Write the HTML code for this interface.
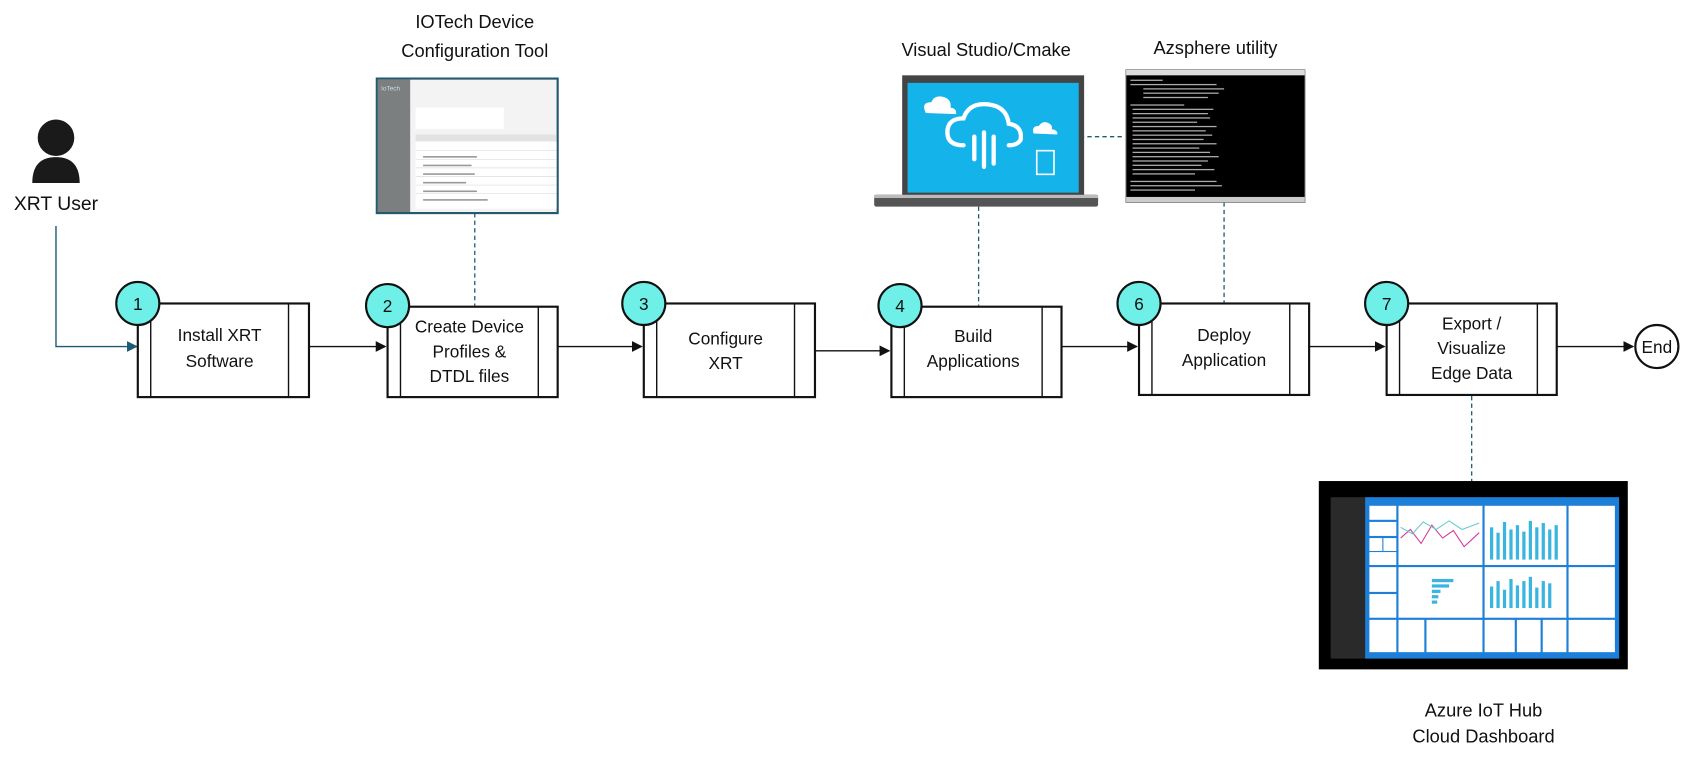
<!DOCTYPE html>
<html><head><meta charset="utf-8"><style>
html,body{margin:0;padding:0;background:#fff;}
svg{display:block}
text{font-family:"Liberation Sans",sans-serif;fill:#111;}
</style></head><body>
<svg width="1687" height="763" viewBox="0 0 1567 709" preserveAspectRatio="none" xmlns="http://www.w3.org/2000/svg">
<defs>
<marker id="ah" markerWidth="10" markerHeight="10" refX="9" refY="5" orient="auto" markerUnits="userSpaceOnUse"><path d="M0,0 L10,5 L0,10 z" fill="#111"/></marker>
<marker id="ahb" markerWidth="10" markerHeight="10" refX="9" refY="5" orient="auto" markerUnits="userSpaceOnUse"><path d="M0,0 L10,5 L0,10 z" fill="#1f5a73"/></marker>
</defs>

<!-- user icon -->
<circle cx="52" cy="128" r="17" fill="#1a1a1a"/>
<path d="M30,170 Q30,146 52,146 Q74,146 74,170 Z" fill="#1a1a1a"/>
<text x="52" y="195" text-anchor="middle" font-size="18">XRT User</text>
<path d="M52,210 V322 H127" fill="none" stroke="#1f5a73" stroke-width="1.3" marker-end="url(#ahb)"/>

<!-- dashed connectors -->
<g stroke="#1f5a73" stroke-width="1.2" stroke-dasharray="4,3" fill="none">
<line x1="441" y1="198" x2="441" y2="284"/>
<line x1="909" y1="192" x2="909" y2="284"/>
<line x1="1003" y1="127" x2="1045" y2="127"/>
<line x1="1137" y1="188" x2="1137" y2="282"/>
<line x1="1367" y1="368" x2="1367" y2="447"/>
</g>

<!-- flow arrows -->
<g stroke="#111" stroke-width="1.3" fill="none">
<line x1="287" y1="322" x2="358" y2="322" marker-end="url(#ah)"/>
<line x1="518" y1="322" x2="596" y2="322" marker-end="url(#ah)"/>
<line x1="757" y1="326" x2="826" y2="326" marker-end="url(#ah)"/>
<line x1="986" y1="322" x2="1056" y2="322" marker-end="url(#ah)"/>
<line x1="1216" y1="322" x2="1286" y2="322" marker-end="url(#ah)"/>
<line x1="1446" y1="322" x2="1517" y2="322" marker-end="url(#ah)"/>
</g>

<!-- process boxes -->
<g fill="#fff" stroke="#111" stroke-width="2">
<rect x="128" y="282" width="159" height="87"/><line x1="140" y1="282" x2="140" y2="369" stroke-width="1.3"/><line x1="268" y1="282" x2="268" y2="369" stroke-width="1.3"/>
<rect x="360" y="285" width="158" height="84"/><line x1="372" y1="285" x2="372" y2="369" stroke-width="1.3"/><line x1="500" y1="285" x2="500" y2="369" stroke-width="1.3"/>
<rect x="598" y="282" width="159" height="87"/><line x1="610" y1="282" x2="610" y2="369" stroke-width="1.3"/><line x1="738" y1="282" x2="738" y2="369" stroke-width="1.3"/>
<rect x="828" y="285" width="158" height="84"/><line x1="840" y1="285" x2="840" y2="369" stroke-width="1.3"/><line x1="968" y1="285" x2="968" y2="369" stroke-width="1.3"/>
<rect x="1058" y="282" width="158" height="85"/><line x1="1070" y1="282" x2="1070" y2="367" stroke-width="1.3"/><line x1="1198" y1="282" x2="1198" y2="367" stroke-width="1.3"/>
<rect x="1288" y="282" width="158" height="85"/><line x1="1300" y1="282" x2="1300" y2="367" stroke-width="1.3"/><line x1="1428" y1="282" x2="1428" y2="367" stroke-width="1.3"/>
</g>
<g font-size="16" text-anchor="middle">
<text x="204" y="317">Install XRT</text><text x="204" y="341">Software</text>
<text x="436" y="309">Create Device</text><text x="436" y="332">Profiles &amp;</text><text x="436" y="355">DTDL files</text>
<text x="674" y="320">Configure</text><text x="674" y="343">XRT</text>
<text x="904" y="318">Build</text><text x="904" y="341">Applications</text>
<text x="1137" y="317">Deploy</text><text x="1137" y="340">Application</text>
<text x="1367" y="306">Export /</text><text x="1367" y="329">Visualize</text><text x="1367" y="352">Edge Data</text>
</g>

<!-- number circles -->
<g fill="#6ef0e8" stroke="#111" stroke-width="2">
<circle cx="128" cy="282" r="20"/><circle cx="360" cy="284" r="20"/><circle cx="598" cy="282" r="20"/>
<circle cx="836" cy="284" r="20"/><circle cx="1058" cy="282" r="20"/><circle cx="1288" cy="282" r="20"/>
</g>
<g font-size="16" text-anchor="middle">
<text x="128" y="288">1</text><text x="360" y="290">2</text><text x="598" y="288">3</text>
<text x="836" y="290">4</text><text x="1058" y="288">6</text><text x="1288" y="288">7</text>
</g>
<circle cx="1539" cy="322" r="20" fill="#fff" stroke="#111" stroke-width="2"/>
<text x="1539" y="328" font-size="16" text-anchor="middle">End</text>

<!-- top labels -->
<g font-size="17" text-anchor="middle">
<text x="441" y="26">IOTech Device</text><text x="441" y="53">Configuration Tool</text>
<text x="916" y="52">Visual Studio/Cmake</text>
<text x="1129" y="50">Azsphere utility</text>
<text x="1378" y="666">Azure IoT Hub</text><text x="1378" y="690">Cloud Dashboard</text>
</g>

<!-- IOTech screenshot -->
<rect x="350" y="73" width="168" height="125" fill="#f3f3f3" stroke="#245a6e" stroke-width="2"/>
<rect x="351" y="74" width="30" height="123" fill="#7b7f80"/>
<text x="354" y="84" font-size="6" style="fill:#cde">IoTech</text>
<rect x="386" y="100" width="82" height="20" fill="#fff"/>
<rect x="386" y="125" width="131" height="6" fill="#e2e2e2"/>
<g fill="#fff"><rect x="386" y="132" width="131" height="62"/></g>
<g stroke="#ddd" stroke-width="0.6">
<line x1="386" y1="140" x2="517" y2="140"/><line x1="386" y1="148" x2="517" y2="148"/><line x1="386" y1="156" x2="517" y2="156"/>
<line x1="386" y1="164" x2="517" y2="164"/><line x1="386" y1="172" x2="517" y2="172"/><line x1="386" y1="180" x2="517" y2="180"/>
</g>
<g fill="#999"><rect x="393" y="145" width="50" height="1.5"/><rect x="393" y="153" width="45" height="1.5"/><rect x="393" y="161" width="48" height="1.5"/><rect x="393" y="169" width="40" height="1.5"/><rect x="393" y="177" width="50" height="1.5"/><rect x="393" y="185" width="60" height="1.5"/></g>

<!-- laptop -->
<rect x="838" y="70" width="169" height="112" fill="#444"/>
<rect x="843" y="77" width="159" height="102" fill="#14b3ea"/>
<rect x="812" y="181" width="208" height="11" rx="2" fill="#555"/>
<rect x="812" y="181" width="208" height="3" fill="#bbb"/>
<g fill="none" stroke="#fff" stroke-width="4" stroke-linecap="round">
<path d="M895,135 Q880,135 880,123 Q880,110 895,110 Q900,95 918,97 Q935,99 937,115 Q950,117 948,130 Q945,135 937,135"/>
<line x1="905" y1="127" x2="905" y2="148"/><line x1="914" y1="123" x2="914" y2="155"/><line x1="923" y1="127" x2="923" y2="152"/>
</g>
<path d="M860,105 Q855,95 865,95 Q868,88 876,90 Q884,92 883,100 Q889,101 888,106 Z" fill="#fff"/>
<path d="M960,124 Q958,117 965,117 Q968,112 973,114 Q978,116 977,120 Q983,121 982,125 Z" fill="#fff"/>
<rect x="963" y="140" width="16" height="22" fill="none" stroke="#fff" stroke-width="1.5"/>

<!-- terminal -->
<rect x="1046" y="65" width="166" height="123" fill="#000" stroke="#555"/>
<rect x="1046" y="65" width="166" height="5" fill="#ddd"/>
<rect x="1046" y="183" width="166" height="5" fill="#ccc"/>
<g fill="#aaa">
<rect x="1050" y="74" width="30" height="1.2"/><rect x="1050" y="78" width="80" height="1.2"/><rect x="1062" y="82" width="75" height="1.2"/><rect x="1062" y="86" width="70" height="1.2"/><rect x="1062" y="90" width="60" height="1.2"/>
<rect x="1050" y="97" width="50" height="1.2"/><rect x="1052" y="101" width="75" height="1.2"/><rect x="1052" y="105" width="70" height="1.2"/><rect x="1052" y="109" width="72" height="1.2"/><rect x="1052" y="113" width="60" height="1.2"/><rect x="1052" y="117" width="78" height="1.2"/><rect x="1052" y="121" width="68" height="1.2"/><rect x="1052" y="125" width="74" height="1.2"/><rect x="1052" y="129" width="66" height="1.2"/><rect x="1052" y="133" width="78" height="1.2"/><rect x="1052" y="137" width="62" height="1.2"/><rect x="1052" y="141" width="72" height="1.2"/><rect x="1052" y="145" width="80" height="1.2"/><rect x="1052" y="149" width="70" height="1.2"/><rect x="1052" y="153" width="64" height="1.2"/><rect x="1052" y="157" width="76" height="1.2"/><rect x="1052" y="161" width="58" height="1.2"/>
<rect x="1050" y="168" width="80" height="1.2"/><rect x="1050" y="172" width="85" height="1.2"/><rect x="1050" y="176" width="60" height="1.2"/>
</g>

<!-- dashboard -->
<rect x="1225" y="447" width="287" height="175" fill="#000"/>
<rect x="1236" y="462" width="32" height="150" fill="#2a2a2a"/>
<rect x="1268" y="462" width="236" height="150" fill="#1e7fd8"/>
<g fill="#fff">
<rect x="1272" y="470" width="25" height="13"/><rect x="1272" y="485" width="25" height="13"/><rect x="1272" y="500" width="12" height="12"/><rect x="1285" y="500" width="12" height="12"/><rect x="1272" y="513" width="25" height="12"/>
<rect x="1299" y="470" width="78" height="55"/><rect x="1379" y="470" width="76" height="55"/><rect x="1457" y="470" width="43" height="55"/>
<rect x="1272" y="527" width="25" height="23"/><rect x="1272" y="552" width="25" height="22"/>
<rect x="1299" y="527" width="78" height="47"/><rect x="1379" y="527" width="76" height="47"/><rect x="1457" y="527" width="43" height="47"/>
<rect x="1272" y="576" width="25" height="30"/><rect x="1299" y="576" width="24" height="30"/><rect x="1325" y="576" width="52" height="30"/><rect x="1379" y="576" width="28" height="30"/><rect x="1409" y="576" width="22" height="30"/><rect x="1433" y="576" width="22" height="30"/><rect x="1457" y="576" width="43" height="30"/>
</g>
<path d="M1301,500 L1310,492 L1320,505 L1330,488 L1340,500 L1350,493 L1360,508 L1374,495" stroke="#d63a9a" fill="none" stroke-width="1"/>
<path d="M1301,490 L1312,496 L1322,485 L1334,492 L1346,484 L1358,492 L1374,486" stroke="#6cc" fill="none" stroke-width="1"/>
<g fill="#3ab5e0"><rect x="1384" y="490" width="3" height="30"/><rect x="1390" y="495" width="3" height="25"/><rect x="1396" y="485" width="3" height="35"/><rect x="1402" y="492" width="3" height="28"/><rect x="1408" y="488" width="3" height="32"/><rect x="1414" y="494" width="3" height="26"/><rect x="1420" y="484" width="3" height="36"/><rect x="1426" y="490" width="3" height="30"/><rect x="1432" y="486" width="3" height="34"/><rect x="1438" y="492" width="3" height="28"/><rect x="1444" y="488" width="3" height="32"/>
<rect x="1384" y="545" width="3" height="20"/><rect x="1390" y="540" width="3" height="25"/><rect x="1396" y="548" width="3" height="17"/><rect x="1402" y="538" width="3" height="27"/><rect x="1408" y="544" width="3" height="21"/><rect x="1414" y="540" width="3" height="25"/><rect x="1420" y="536" width="3" height="29"/><rect x="1426" y="546" width="3" height="19"/><rect x="1432" y="540" width="3" height="25"/><rect x="1438" y="542" width="3" height="23"/>
<rect x="1330" y="538" width="20" height="3"/><rect x="1330" y="543" width="16" height="3"/><rect x="1330" y="548" width="8" height="3"/><rect x="1330" y="553" width="6" height="3"/><rect x="1330" y="558" width="5" height="3"/></g>
</svg>
</body></html>
